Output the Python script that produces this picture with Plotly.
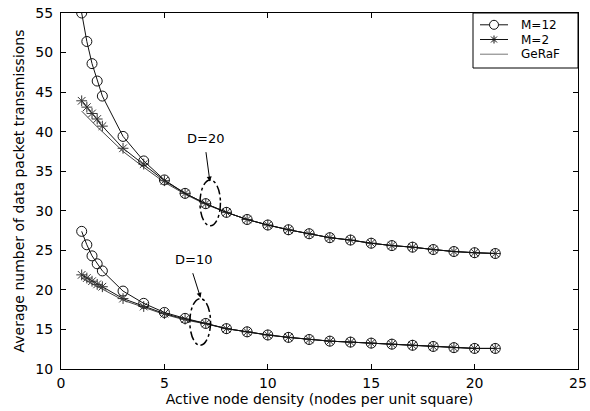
import plotly.graph_objects as go

# ---- data ----
density = [1, 1.25, 1.5, 1.75, 2, 3, 4, 5, 6, 7, 8, 9, 10, 11, 12, 13, 14, 15, 16, 17, 18, 19, 20, 21]

d20_m12 = [55.0, 51.4, 48.6, 46.4, 44.5, 39.4, 36.3, 33.9, 32.2, 30.9, 29.8, 28.9, 28.2, 27.6, 27.1, 26.6, 26.3, 25.9, 25.6, 25.4, 25.1, 24.85, 24.7, 24.6]
d20_m2 = [43.9, 43.1, 42.3, 41.6, 40.7, 37.9, 35.9, 33.8, 32.2, 30.9, 29.8, 28.9, 28.2, 27.6, 27.1, 26.6, 26.3, 25.9, 25.6, 25.4, 25.1, 24.85, 24.7, 24.6]
d20_geraf = [42.6, 41.9, 41.2, 40.6, 40.0, 37.5, 35.5, 33.6, 32.1, 30.8, 29.8, 28.9, 28.2, 27.6, 27.1, 26.6, 26.3, 25.9, 25.6, 25.4, 25.1, 24.85, 24.7, 24.6]

d10_m12 = [27.4, 25.7, 24.3, 23.3, 22.4, 19.85, 18.3, 17.15, 16.4, 15.76, 15.1, 14.7, 14.3, 14.0, 13.73, 13.52, 13.4, 13.27, 13.14, 13.0, 12.85, 12.7, 12.6, 12.6]
d10_m2 = [21.9, 21.5, 21.1, 20.7, 20.4, 18.9, 17.9, 17.0, 16.3, 15.76, 15.1, 14.7, 14.3, 14.0, 13.73, 13.52, 13.4, 13.27, 13.14, 13.0, 12.85, 12.7, 12.6, 12.6]
d10_geraf = [21.5, 21.1, 20.8, 20.4, 20.1, 18.7, 17.8, 16.9, 16.2, 15.7, 15.1, 14.7, 14.3, 14.0, 13.73, 13.52, 13.4, 13.27, 13.14, 13.0, 12.85, 12.7, 12.6, 12.6]

x_ticks = [0, 5, 10, 15, 20, 25]
y_ticks = [10, 15, 20, 25, 30, 35, 40, 45, 50, 55]

legend_names = ["M=12", "M=2", "GeRaF"]

FONT = "DejaVu Sans"
W, H = 590, 411
ML, MR, MT, MB = 61, 12, 13, 42
PW, PH = W - ML - MR, H - MT - MB


def px_x(p):  # pixel -> paper x
    return (p - ML) / PW


def px_y(p):  # pixel -> paper y
    return 1 - (p - MT) / PH


fig = go.Figure()


def add(x, y, symbol, color, lcolor, size):
    fig.add_trace(go.Scatter(
        x=x, y=y, mode="lines+markers" if symbol else "lines", showlegend=False,
        line=dict(color=lcolor, width=1),
        marker=dict(symbol=symbol, size=size, color=color,
                    line=dict(color=color, width=1)) if symbol else None,
        hoverinfo="x+y",
    ))


add(density, d20_geraf, None, "#555555", "#444444", 0)
add(density, d10_geraf, None, "#555555", "#444444", 0)
add(density, d20_m2, "asterisk-open", "#333333", "#111111", 9)
add(density, d10_m2, "asterisk-open", "#333333", "#111111", 9)
add(density, d20_m12, "circle-open", "#111111", "#111111", 10)
add(density, d10_m12, "circle-open", "#111111", "#111111", 10)

# ellipses marking D groups
fig.add_shape(type="circle", xref="x", yref="y", x0=6.72, x1=7.71, y0=28.1, y1=33.9,
              line=dict(color="black", width=1.5, dash="dashdot"))
fig.add_shape(type="circle", xref="x", yref="y", x0=6.23, x1=7.23, y0=13.0, y1=18.9,
              line=dict(color="black", width=1.5, dash="dashdot"))

# labels with arrows
fig.add_annotation(x=7.0, y=39.1, text="D=20", showarrow=False,
                   font=dict(family=FONT, size=13, color="black"))
fig.add_annotation(x=7.2, y=33.7, ax=7.0, ay=37.6, xref="x", yref="y", axref="x", ayref="y",
                   text="", showarrow=True, arrowhead=2, arrowsize=1, arrowwidth=1, arrowcolor="black")
fig.add_annotation(x=6.4, y=23.8, text="D=10", showarrow=False,
                   font=dict(family=FONT, size=13, color="black"))
fig.add_annotation(x=6.75, y=19.0, ax=6.35, ay=22.3, xref="x", yref="y", axref="x", ayref="y",
                   text="", showarrow=True, arrowhead=2, arrowsize=1, arrowwidth=1, arrowcolor="black")

# ---- legend box (drawn in paper space) ----
fig.add_shape(type="rect", xref="paper", yref="paper",
              x0=px_x(473), x1=1, y0=px_y(68), y1=1,
              line=dict(color="black", width=1), fillcolor="white", layer="above")
rows = [24.8, 39.5, 54.2]
line_cols = ["#111111", "#111111", "#777777"]
for name, ry, lc in zip(legend_names, rows, line_cols):
    fig.add_shape(type="line", xref="paper", yref="paper",
                  x0=px_x(480), x1=px_x(508), y0=px_y(ry), y1=px_y(ry),
                  line=dict(color=lc, width=1), layer="above")
    fig.add_annotation(xref="paper", yref="paper", x=px_x(520), y=px_y(ry),
                       xanchor="left", yanchor="middle", text=name, showarrow=False,
                       borderpad=0,
                       font=dict(family=FONT, size=12, color="black"))
# legend glyph: open circle
fig.add_shape(type="circle", xref="paper", yref="paper", xsizemode="pixel", ysizemode="pixel",
              xanchor=px_x(494), yanchor=px_y(rows[0]), x0=-4.5, x1=4.5, y0=-4.5, y1=4.5,
              line=dict(color="#111111", width=1), fillcolor="white", layer="above")
# legend glyph: asterisk
for dx0, dy0, dx1, dy1 in [(-4, 0, 4, 0), (0, -4, 0, 4), (-3, -3, 3, 3), (-3, 3, 3, -3)]:
    fig.add_shape(type="line", xref="paper", yref="paper", xsizemode="pixel", ysizemode="pixel",
                  xanchor=px_x(494), yanchor=px_y(rows[1]), x0=dx0, x1=dx1, y0=dy0, y1=dy1,
                  line=dict(color="#111111", width=1), layer="above")

axis_common = dict(showgrid=False, zeroline=False, showline=True, linecolor="black", linewidth=1,
                   mirror="ticks", ticks="inside", ticklen=5, tickcolor="black", automargin=False,
                   tickfont=dict(family=FONT, size=14, color="black"))

fig.update_xaxes(range=[0, 25], tickvals=x_ticks, ticklabelstandoff=1, **axis_common,
                 title=dict(text="Active node density (nodes per unit square)",
                            font=dict(family=FONT, size=14, color="black"), standoff=1))
fig.update_yaxes(range=[10, 55], tickvals=y_ticks, ticklabelstandoff=4, **axis_common,
                 title=dict(text="Average number of data packet transmissions",
                            font=dict(family=FONT, size=14, color="black"), standoff=7))

fig.update_layout(
    width=W, height=H,
    margin=dict(l=ML, r=MR, t=MT, b=MB),
    plot_bgcolor="white", paper_bgcolor="white",
    font=dict(family=FONT, color="black"),
    showlegend=False,
)

fig.write_html("out.html")
